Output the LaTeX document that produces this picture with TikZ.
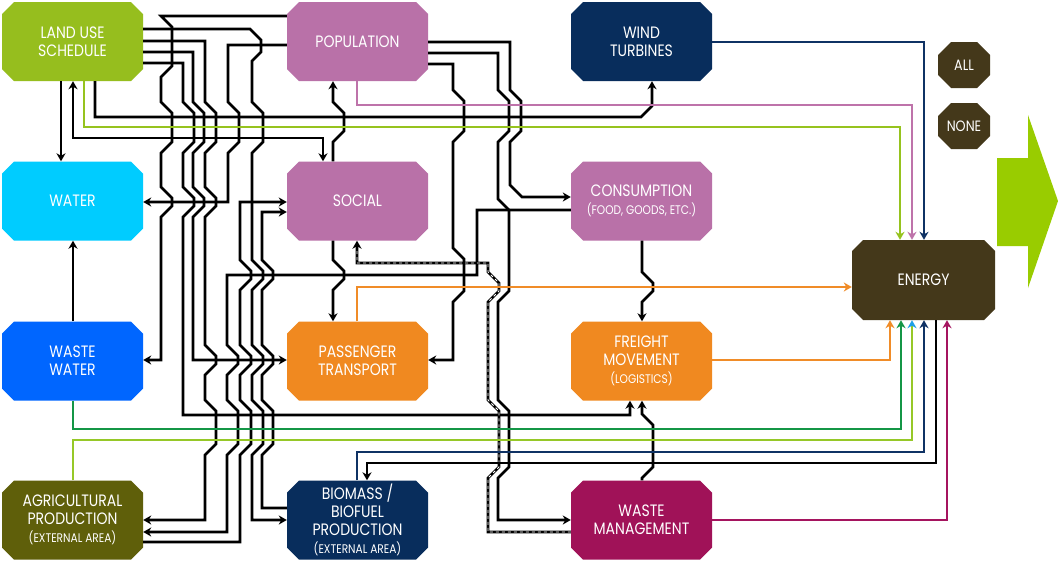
\documentclass[tikz,border=0pt]{standalone}
\usepackage{fontspec}
\usetikzlibrary{arrows.meta}
\newfontfamily\boxfont[FakeStretch=0.85]{Poppins}
\newcommand\smallf{\fontsize{12.5}{13.5}\selectfont}
\definecolor{lucol}{RGB}{150,190,30}
\definecolor{popcol}{RGB}{185,113,168}
\definecolor{navycol}{RGB}{8,45,92}
\definecolor{watcol}{RGB}{0,204,255}
\definecolor{wwcol}{RGB}{0,102,255}
\definecolor{orcol}{RGB}{240,137,32}
\definecolor{agcol}{RGB}{95,95,10}
\definecolor{wmcol}{RGB}{160,18,88}
\definecolor{encol}{RGB}{68,56,26}
\definecolor{bigarrow}{RGB}{153,204,0}
\definecolor{lgline}{RGB}{150,195,30}
\definecolor{pkline}{RGB}{190,115,170}
\definecolor{nvline}{RGB}{15,50,100}
\definecolor{orline}{RGB}{240,140,40}
\definecolor{dgline}{RGB}{20,150,70}
\definecolor{agline}{RGB}{150,200,40}
\definecolor{mgline}{RGB}{165,20,95}
\definecolor{cyhead}{RGB}{30,160,230}
% jog of a vertical line: going down / going up across band [#2,#3]
\newcommand\jgd[3]{-- (#1,#2-15) -- (#1+11,#2-4) -- (#1+11,#3+4) -- (#1,#3+15)}
\newcommand\jgu[3]{-- (#1,#3+15) -- (#1+11,#3+4) -- (#1+11,#2-4) -- (#1,#2-15)}
% octagon: cx, cy, w, h, chamfer, colour
\newcommand\octo[6]{\fill[#6] ({#1-#3/2+#5},{#2-#4/2}) -- ({#1+#3/2-#5},{#2-#4/2}) -- ({#1+#3/2},{#2-#4/2+#5}) -- ({#1+#3/2},{#2+#4/2-#5}) -- ({#1+#3/2-#5},{#2+#4/2}) -- ({#1-#3/2+#5},{#2+#4/2}) -- ({#1-#3/2},{#2+#4/2-#5}) -- ({#1-#3/2},{#2-#4/2+#5}) -- cycle;}
\tikzset{
  box/.style={minimum width=141pt, minimum height=79pt, inner sep=0pt, text=white, align=center,
    font=\boxfont\fontsize{16.5}{18}\selectfont},
  smallbox/.style={box, minimum width=52pt, minimum height=46pt, font=\boxfont\fontsize{15}{16}\selectfont},
  conn/.style={line width=2.6pt, line join=miter, black},
  dashedconn/.style={conn, postaction={draw=white, -, line width=0.8pt, dash pattern=on 3pt off 3pt, shorten >=8pt}},
  >={Stealth[length=8pt,width=9pt,inset=2.5pt]}
}
\begin{document}
\begin{tikzpicture}[x=1pt,y=-1pt]
\fill[white] (0,0) rectangle (1058,563);
\useasboundingbox (0,0) rectangle (1058,563);
% boxes
\octo{72.5}{41.5}{141}{79}{12}{lucol}
\octo{357.5}{41.5}{141}{79}{12}{popcol}
\octo{641.5}{41.5}{141}{79}{12}{navycol}
\octo{72.5}{201}{141}{79}{12}{watcol}
\octo{357.5}{201}{141}{79}{12}{popcol}
\octo{641.5}{201}{141}{79}{12}{popcol}
\octo{72.5}{361}{141}{79}{12}{wwcol}
\octo{357.5}{361}{141}{79}{12}{orcol}
\octo{641.5}{361}{141}{79}{12}{orcol}
\octo{72.5}{520}{141}{79}{12}{agcol}
\octo{357.5}{520}{141}{79}{12}{navycol}
\octo{641.5}{520}{141}{79}{12}{wmcol}
\octo{923.5}{280}{143}{80}{11}{encol}
\octo{964}{65}{52}{46}{13}{encol}
\octo{964}{126}{52}{46}{13}{encol}
\node[box] (lus) at (72.5,41.5) {LAND USE\\SCHEDULE};
\node[box] (pop) at (357.5,41.5) {POPULATION};
\node[box] (wind) at (641.5,41.5) {WIND\\TURBINES};
\node[box] (water) at (72.5,201) {WATER};
\node[box] (soc) at (357.5,201) {SOCIAL};
\node[box] (cons) at (641.5,201) {CONSUMPTION\\{\smallf (FOOD, GOODS, ETC.)}};
\node[box] (wwat) at (72.5,361) {WASTE\\WATER};
\node[box] (pass) at (357.5,361) {PASSENGER\\TRANSPORT};
\node[box] (frei) at (641.5,361) {FREIGHT\\MOVEMENT\\{\smallf (LOGISTICS)}};
\node[box] (agri) at (72.5,520) {AGRICULTURAL\\PRODUCTION\\{\smallf (EXTERNAL AREA)}};
\node[box] (bio) at (357.5,520) {BIOMASS /\\BIOFUEL\\PRODUCTION\\{\smallf (EXTERNAL AREA)}};
\node[box] (wm) at (641.5,520) {WASTE\\MANAGEMENT};
\node[box, minimum width=143pt, minimum height=80pt] (energy) at (923.5,280) {ENERGY};
\node[smallbox] (all) at (964,65) {ALL};
\node[smallbox] (none) at (964,126) {NONE};
% big arrow
\fill[bigarrow] (997,158) -- (1028,158) -- (1028,115) -- (1058,201) -- (1028,288) -- (1028,246) -- (997,246) -- cycle;
% ---------- black connectors ----------
\draw[conn,->] (lus.south -| 61,0) -- (water.north -| 61,0);
\draw[conn,->] (wwat.north -| 73,0) -- (water.south -| 73,0);
\draw[conn,<->] (lus.south -| 73,0) -- (73,138) -- (323,138) -- (soc.north -| 323,0);
\draw[conn,->] (lus.south -| 95,0) -- (95,117) -- (641,117) -- (652,106) -- (wind.south -| 652,0);
% population -> waste water
\draw[conn,->] (pop.west |- 0,16) -- (161,16) -- (172,27) -- (172,66) -- (161,77) \jgd{161}{117}{138} \jgd{161}{202}{202} -- (161,360) -- (wwat.east |- 0,360);
% land use -> freight
\draw[conn,->] (lus.east |- 0,63) -- (183,63) \jgd{183}{117}{138} \jgd{183}{202}{202} -- (183,415) -- (630,415) -- (frei.south -| 630,0);
% land use -> passenger
\draw[conn,->] (lus.east |- 0,52) -- (193,52) \jgd{193}{117}{138} \jgd{193}{202}{202} -- (193,360) -- (pass.west |- 0,360);
% land use -> agricultural
\draw[conn,->] (lus.east |- 0,41) -- (205,41) \jgd{205}{117}{138} \jgd{205}{202}{202} \jgd{205}{360}{360} \jgd{205}{415}{440} -- (205,520) -- (agri.east |- 0,520);
% population -> water
\draw[conn,->] (pop.west |- 0,45) -- (228,45) \jgd{228}{117}{138} -- (228,202) -- (water.east |- 0,202);
% consumption -> agricultural
\draw[conn,->] (cons.west |- 0,210) -- (477,210) -- (477,275) -- (227,275) \jgd{227}{360}{360} \jgd{227}{415}{440} -- (227,532) -- (agri.east |- 0,532);
% agricultural -> social
\draw[conn,->] (agri.east |- 0,542) -- (240,542) \jgu{240}{415}{440} \jgu{240}{360}{360} \jgu{240}{275}{275} -- (240,202) -- (soc.west |- 0,202);
% land use -> biomass
\draw[conn,->] (lus.east |- 0,29) -- (250,29) -- (261,40) -- (261,52) -- (252,61) \jgd{252}{117}{138} \jgd{252}{275}{275} \jgd{252}{360}{360} \jgd{252}{415}{440} -- (252,520) -- (bio.west |- 0,520);
% biomass -> social
\draw[conn,->] (bio.west |- 0,508) -- (262,508) \jgu{262}{415}{440} \jgu{262}{360}{360} \jgu{262}{275}{275} -- (262,212) -- (soc.west |- 0,212);
% social -> population, social -> passenger
\draw[conn,->] (soc.north -| 333,0) \jgu{333}{117}{127} -- (pop.south -| 333,0);
\draw[conn,->] (soc.south -| 333,0) \jgd{333}{275}{275} -- (pass.north -| 333,0);
% population -> passenger / waste management / consumption
\draw[conn,->] (pop.east |- 0,64) -- (453,64) \jgd{453}{105}{127} \jgd{453}{263}{287} -- (453,360) -- (pass.east |- 0,360);
\draw[conn,->] (pop.east |- 0,53) -- (498,53) \jgd{498}{105}{127} \jgd{498}{214}{287} \jgd{498}{415}{463} -- (498,520) -- (wm.west |- 0,520);
\draw[conn,->] (pop.east |- 0,42) -- (510,42) \jgd{510}{105}{127} -- (510,185) -- (522,197) -- (cons.west |- 0,197);
% waste management -> social (dashed)
\draw[dashedconn,->] (wm.west |- 0,532) -- (488,532) \jgu{488}{415}{463} \jgu{488}{287}{287} -- (488,263) -- (357,263) -- (soc.south -| 357,0);
% consumption -> freight, waste management -> freight
\draw[conn,->] (cons.south -| 642,0) \jgd{642}{287}{287} -- (frei.north -| 642,0);
\draw[conn,->] (wm.north -| 642,0) \jgu{642}{429}{463} -- (frei.south -| 642,0);
% energy -> biomass
\draw[conn,->] (energy.south -| 936,0) -- (936,463) -- (367,463) -- (bio.north -| 367,0);
% ---------- coloured connectors ----------
\draw[conn,nvline,->] (wind.east |- 0,42) -- (924,42) -- (energy.north -| 924,0);
\draw[conn,pkline,->] (pop.south -| 357,0) -- (357,105) -- (912,105) -- (energy.north -| 912,0);
\draw[conn,lgline,->] (lus.south -| 84,0) -- (84,127) -- (900,127) -- (energy.north -| 900,0);
\draw[conn,orline,->] (pass.north -| 357,0) -- (357,287) -- (energy.west |- 0,287);
\draw[conn,orline,->] (frei.east |- 0,360) -- (890,360) -- (energy.south -| 890,0);
\draw[conn,dgline,->] (wwat.south -| 73,0) -- (73,429) -- (901,429) -- (energy.south -| 901,0);
\draw[conn,agline,-{Stealth[length=8pt,width=9pt,inset=2.5pt,color=cyhead]}] (agri.north -| 73,0) -- (73,440) -- (912,440) -- (energy.south -| 912,0);
\draw[conn,nvline,->] (bio.north -| 357,0) -- (357,452) -- (924,452) -- (energy.south -| 924,0);
\draw[conn,mgline,->] (wm.east |- 0,520) -- (947,520) -- (energy.south -| 947,0);
\end{tikzpicture}
\end{document}
